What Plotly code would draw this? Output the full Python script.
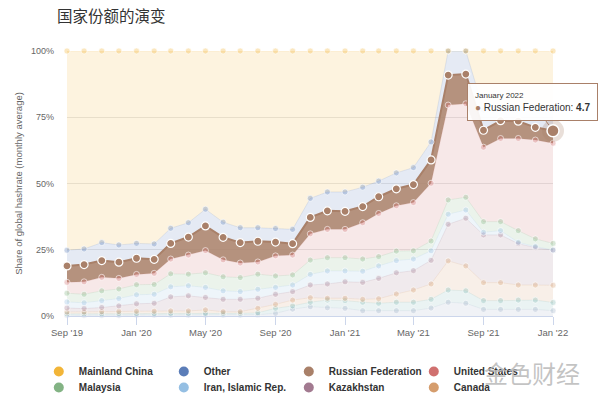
import plotly.graph_objects as go

months = ["2019-09", "2019-10", "2019-11", "2019-12", "2020-01", "2020-02", "2020-03", "2020-04",
          "2020-05", "2020-06", "2020-07", "2020-08", "2020-09", "2020-10", "2020-11", "2020-12",
          "2021-01", "2021-02", "2021-03", "2021-04", "2021-05", "2021-06", "2021-07", "2021-08",
          "2021-09", "2021-10", "2021-11", "2021-12", "2022-01"]
tick_vals = ["2019-09", "2020-01", "2020-05", "2020-09", "2021-01", "2021-05", "2021-09", "2022-01"]
tick_text = ["Sep '19", "Jan '20", "May '20", "Sep '20", "Jan '21", "May '21", "Sep '21", "Jan '22"]

# share of global hashrate, %  (stack order bottom -> top)
ireland = [0.3, 0.3, 0.3, 0.3, 0.4, 0.4, 0.4, 0.4, 0.4, 0.4, 0.4, 0.5, 1.0, 2.6, 3.5, 3.1,
           2.9, 2.0, 2.0, 2.0, 2.0, 3.0, 5.2, 4.8, 2.5, 2.5, 2.5, 2.5, 2.0]
germany = [0.5, 0.5, 0.5, 0.6, 0.5, 0.5, 0.6, 0.6, 0.6, 0.6, 0.6, 0.7, 1.9, 1.2, 1.7, 2.9,
           2.9, 3.2, 2.8, 3.2, 3.2, 3.3, 4.6, 4.7, 3.3, 3.3, 3.5, 3.5, 3.1]
canada = [0.7, 0.7, 0.8, 0.8, 0.9, 0.9, 0.9, 0.9, 1.3, 0.6, 0.6, 1.7, 1.5, 2.2, 1.7, 0.7,
          0.9, 1.1, 1.7, 3.1, 4.6, 5.8, 11.0, 9.4, 6.8, 6.8, 5.7, 5.7, 6.5]
kazakhstan = [1.5, 1.3, 1.6, 2.1, 2.8, 3.0, 5.3, 5.7, 4.7, 4.7, 4.7, 3.8, 3.8, 3.2, 4.8, 5.4,
              6.2, 6.4, 7.7, 8.0, 7.3, 8.9, 13.8, 18.0, 18.0, 18.0, 15.6, 14.1, 13.2]
iran = [2.3, 2.2, 2.6, 2.8, 3.4, 3.4, 3.8, 3.8, 3.8, 3.2, 2.9, 3.4, 2.6, 2.5, 4.0, 4.9,
        4.1, 4.2, 4.7, 4.6, 4.4, 3.6, 3.8, 3.1, 1.0, 1.6, 0.5, 0.4, 0.1]
malaysia = [3.3, 3.2, 3.7, 3.6, 3.8, 3.7, 4.9, 4.4, 5.5, 5.3, 5.3, 5.7, 4.3, 3.8, 5.4, 5.0,
            5.0, 4.6, 3.5, 3.6, 3.1, 3.7, 5.4, 4.8, 4.0, 3.4, 4.4, 2.9, 2.5]
united_states = [4.1, 4.7, 5.1, 4.0, 3.9, 4.2, 5.6, 7.2, 8.4, 6.4, 5.5, 4.6, 7.6, 7.5, 9.9, 10.7,
                 10.7, 13.7, 16.3, 17.1, 18.2, 21.8, 35.8, 35.3, 28.1, 31.4, 34.8, 37.3, 37.8]
russia = [6.2, 6.5, 6.3, 6.1, 6.1, 5.3, 5.9, 6.8, 9.3, 8.5, 7.7, 7.8, 5.2, 4.3, 6.2, 7.0,
          6.8, 6.1, 6.3, 6.4, 6.8, 8.8, 11.3, 11.2, 6.4, 6.7, 6.5, 4.8, 4.7]
other = [5.9, 5.9, 6.8, 6.5, 5.6, 5.8, 5.7, 5.4, 6.3, 5.7, 5.6, 5.1, 5.1, 5.4, 7.2, 7.1,
         7.3, 7.3, 5.9, 6.0, 6.4, 6.8, 9.1, 8.7, 7.6, 4.3, 5.0, 7.7, 9.0]
mainland_china = [75.2, 74.7, 72.3, 73.2, 72.6, 72.8, 66.9, 64.8, 59.7, 64.6, 66.7, 66.7, 67.0, 67.3, 55.6, 53.2,
                  53.2, 51.4, 49.1, 46.0, 44.0, 34.3, 0.0, 0.0, 22.3, 22.0, 21.5, 21.1, 21.1]

colors = {
    "Mainland China": "#f2b538",
    "Other": "#5b7db8",
    "Russian Federation": "#a98069",
    "United States": "#d0706f",
    "Malaysia": "#83b384",
    "Iran, Islamic Rep.": "#95bfe3",
    "Kazakhstan": "#a27a90",
    "Canada": "#d59d6d",
    "Germany": "#7fb7b2",
    "Ireland": "#9fb0c8",
}

stack = [
    ("Ireland", ireland),
    ("Germany", germany),
    ("Canada", canada),
    ("Kazakhstan", kazakhstan),
    ("Iran, Islamic Rep.", iran),
    ("Malaysia", malaysia),
    ("United States", united_states),
    ("Russian Federation", russia),
    ("Other", other),
    ("Mainland China", mainland_china),
]
legend_row1 = ["Mainland China", "Other", "Russian Federation", "United States"]
legend_row2 = ["Malaysia", "Iran, Islamic Rep.", "Kazakhstan", "Canada"]
highlight = "Russian Federation"


def rgba(hx, a):
    hx = hx.lstrip("#")
    r, g, b = int(hx[0:2], 16), int(hx[2:4], 16), int(hx[4:6], 16)
    return f"rgba({r},{g},{b},{a})"


FONT = "Liberation Sans, Arial, sans-serif"
fig = go.Figure()

for name, vals in stack:
    c = colors[name]
    if name == highlight:
        fig.add_trace(go.Scatter(
            x=months, y=vals, name=name, stackgroup="one", mode="lines+markers",
            fillcolor=rgba(c, 0.86), line=dict(color=c, width=2),
            marker=dict(size=8, color=c, line=dict(color="white", width=1.2)),
            showlegend=False, cliponaxis=False, hoverinfo="skip"))
    else:
        fig.add_trace(go.Scatter(
            x=months, y=vals, name=name, stackgroup="one", mode="lines+markers",
            fillcolor=rgba(c, 0.16), line=dict(color=rgba(c, 0.14), width=1),
            marker=dict(size=6, color=rgba(c, 0.32), line=dict(color="rgba(255,255,255,0.6)", width=1)),
            showlegend=False, cliponaxis=False, hoverinfo="skip"))

# hovered point (last Russian Federation value) with halo
below = [ireland, germany, canada, kazakhstan, iran, malaysia, united_states, russia]
y_last = sum(s[-1] for s in below)
fig.add_trace(go.Scatter(
    x=[months[-1]], y=[y_last], mode="markers", showlegend=False, cliponaxis=False, hoverinfo="skip",
    marker=dict(size=22, color=rgba(colors[highlight], 0.25), line=dict(width=0))))
fig.add_trace(go.Scatter(
    x=[months[-1]], y=[y_last], mode="markers", showlegend=False, cliponaxis=False, hoverinfo="skip",
    marker=dict(size=12, color=colors[highlight], line=dict(color="white", width=1.5))))

# legend entries (two rows, two legends)
for row, leg in ((legend_row1, "legend"), (legend_row2, "legend2")):
    for name in row:
        fig.add_trace(go.Scatter(
            x=[None], y=[None], mode="markers", name=name, showlegend=True, legend=leg,
            marker=dict(size=10, color=colors[name])))

fig.add_annotation(
    x=months[-1], y=y_last, xref="x", yref="y",
    text=("<span style='font-size:8px;color:#333'>January 2022</span><br>"
          f"<span style='color:{colors[highlight]}'>●</span> {highlight}: <b>{russia[-1]:.1f}</b>"),
    showarrow=True, arrowhead=0, arrowwidth=1, arrowcolor=colors[highlight],
    ax=-21, ay=-29, standoff=7, align="left",
    font=dict(family=FONT, size=10, color="#333"),
    bgcolor="rgba(255,255,255,0.92)", bordercolor=colors[highlight], borderwidth=1, borderpad=7)

# watermark
fig.add_annotation(
    x=0.957, y=-0.215, xref="paper", yref="paper", xanchor="center", yanchor="middle",
    text="金色财经", showarrow=False,
    font=dict(family="Noto Sans CJK SC", size=24, color="rgba(185,185,185,0.85)"))

legend_common = dict(orientation="h", xanchor="left", yanchor="top",
                     entrywidth=80, entrywidthmode="pixels", traceorder="normal",
                     font=dict(family=FONT, size=10, color="#333", weight="bold"),
                     bgcolor="rgba(0,0,0,0)")

fig.update_layout(
    width=600, height=395,
    margin=dict(l=67, r=47, t=51, b=79, autoexpand=False),
    paper_bgcolor="white", plot_bgcolor="white",
    font=dict(family=FONT, size=10, color="#666"),
    title=dict(text="国家份额的演变", x=57 / 600, xref="container", xanchor="left",
               y=1 - 17 / 395, yref="container", yanchor="middle",
               font=dict(family="Noto Sans CJK SC", size=15.5, color="#333")),
    showlegend=True,
    legend=dict(x=-0.058, y=-0.155, **legend_common),
    legend2=dict(x=-0.058, y=-0.215, **legend_common),
    xaxis=dict(type="date", range=[months[0], months[-1]],
               tickvals=tick_vals, ticktext=tick_text,
               showgrid=False, zeroline=False,
               showline=True, linecolor="#ccd6eb", linewidth=1,
               ticks="outside", ticklen=8, tickcolor="#ccd6eb",
               tickfont=dict(family=FONT, size=9.5, color="#666")),
    yaxis=dict(range=[0, 100], tickvals=[0, 25, 50, 75, 100],
               ticktext=["0%", "25%", "50%", "75%", "100%"],
               showgrid=True, gridcolor="#e6e6e6", gridwidth=1,
               zeroline=False, showline=False, ticks="", ticklabelstandoff=12,
               tickfont=dict(family=FONT, size=9, color="#666"),
               title=dict(text="Share of global hashrate (monthly average)", standoff=6,
                          font=dict(family=FONT, size=9.5, color="#666"))),
)

fig.write_html("out.html")
